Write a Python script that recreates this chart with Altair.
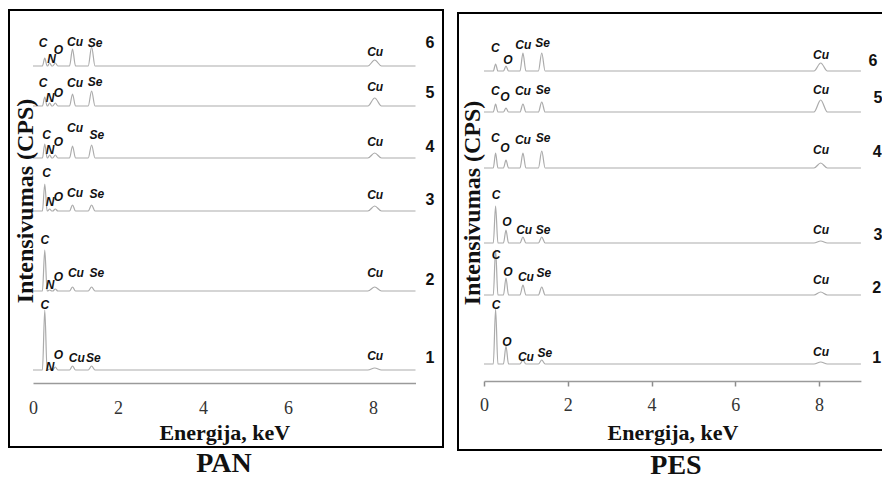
import altair as alt
import pandas as pd

# ---------------- data ----------------
SPECTRA = ["1", "2", "3", "4", "5", "6"]
ELEMENTS = ["C", "N", "O", "Cu", "Se", "Cu"]
PEAK_KEV = [0.277, 0.392, 0.525, 0.930, 1.379, 8.040]
PEAK_HALFWIDTH_KEV = [0.055, 0.05, 0.06, 0.07, 0.08, 0.16]
SPECTRUM_END_KEV = 9.0

# vertical offset of each spectrum (arbitrary CPS units, stacked)
PAN_BASELINE = [77, 156, 236, 289, 341, 381]
PES_BASELINE = [86, 155, 207, 282, 338, 379]

# peak heights above each spectrum's baseline: C, N, O, Cu L, Se L, Cu K
PAN_HEIGHTS = {
    "1": [60, 1, 3, 4, 4, 2],
    "2": [41, 1, 2, 4, 4, 4],
    "3": [27, 2, 2, 6, 6, 5],
    "4": [14, 3, 3, 12, 13, 5],
    "5": [9, 3, 3, 12, 15, 8],
    "6": [8, 3, 3, 17, 19, 6],
}
PES_HEIGHTS = {
    "1": [55, 0, 18, 4, 4, 2],
    "2": [45, 0, 17, 10, 8, 3],
    "3": [37, 0, 13, 6, 6, 2],
    "4": [15, 0, 8, 15, 17, 5],
    "5": [8, 0, 4, 8, 10, 12],
    "6": [7, 0, 5, 18, 18, 8],
}

# element annotations: (text, keV, height above baseline)
PAN_LABELS = {
    "6": [("C", 0.24, 23), ("N", 0.44, 7), ("O", 0.60, 16), ("Cu", 0.99, 24), ("Se", 1.46, 23), ("Cu", 8.05, 14)],
    "5": [("C", 0.24, 23), ("N", 0.40, 8), ("O", 0.60, 13), ("Cu", 0.99, 23), ("Se", 1.46, 24), ("Cu", 8.05, 19)],
    "4": [("C", 0.32, 23), ("N", 0.40, 8), ("O", 0.60, 16), ("Cu", 0.99, 30), ("Se", 1.50, 23), ("Cu", 8.05, 16)],
    "3": [("C", 0.32, 38), ("N", 0.40, 9), ("O", 0.60, 14), ("Cu", 0.99, 18), ("Se", 1.50, 17), ("Cu", 8.05, 16)],
    "2": [("C", 0.28, 51), ("N", 0.40, 6), ("O", 0.60, 14), ("Cu", 1.01, 18), ("Se", 1.50, 18), ("Cu", 8.05, 18)],
    "1": [("C", 0.28, 65), ("N", 0.40, 3), ("O", 0.60, 15), ("Cu", 1.03, 12), ("Se", 1.42, 12), ("Cu", 8.05, 14)],
}
PES_LABELS = {
    "6": [("C", 0.27, 23), ("O", 0.57, 11), ("Cu", 0.94, 26), ("Se", 1.40, 28), ("Cu", 8.05, 16)],
    "5": [("C", 0.27, 21), ("O", 0.50, 15), ("Cu", 0.93, 21), ("Se", 1.41, 22), ("Cu", 8.05, 22)],
    "4": [("C", 0.27, 30), ("O", 0.50, 20), ("Cu", 0.93, 28), ("Se", 1.41, 30), ("Cu", 8.05, 18)],
    "3": [("C", 0.29, 48), ("O", 0.55, 21), ("Cu", 0.96, 13), ("Se", 1.41, 13), ("Cu", 8.05, 13)],
    "2": [("C", 0.29, 40), ("O", 0.57, 23), ("Cu", 1.00, 18), ("Se", 1.43, 22), ("Cu", 8.05, 15)],
    "1": [("C", 0.29, 59), ("O", 0.55, 22), ("Cu", 1.00, 7), ("Se", 1.45, 11), ("Cu", 8.05, 12)],
}

# spectrum numbers at right: keV position and height
PAN_NUMBER_KEV = [9.34, 9.34, 9.34, 9.34, 9.34, 9.34]
PAN_NUMBER_Y = [89, 167, 247, 300, 354, 404]
PES_NUMBER_KEV = [9.38, 9.38, 9.41, 9.39, 9.41, 9.29]
PES_NUMBER_Y = [92, 162, 215, 298, 352, 389]

TICK_VALUES = [0, 2, 4, 6, 8]
KEV_DOMAIN = [0, 9]
CPS_DOMAIN = [0, 437]


def spectrum_table(baselines, heights):
    rows = []
    for s, base in zip(SPECTRA, baselines):
        pts = [(0.0, 0.0)]
        for e, w, h in zip(PEAK_KEV, PEAK_HALFWIDTH_KEV, heights[s]):
            if h <= 0:
                continue
            pts += [(e - w, 0.0), (e, float(h)), (e + w, 0.0)]
        pts.append((SPECTRUM_END_KEV, 0.0))
        for i, (e, v) in enumerate(pts):
            rows.append({"s": s, "E": e, "I": base + v, "o": i})
    return pd.DataFrame(rows)


def label_table(baselines, labels):
    rows = []
    for s, base in zip(SPECTRA, baselines):
        for txt, e, dy in labels[s]:
            rows.append({"t": txt, "E": e, "I": base + dy})
    return pd.DataFrame(rows)


# ---------------- layout (pixels inside the drawing) ----------------
W, H_VIEW, PAD_BOTTOM = 874, 373, 99
SERIF = "Liberation Serif"
SANS = "Liberation Sans"


def panel_layers(name, baselines, heights, labels, num_kev, num_y,
                 x_range, y_range, frame, axis_shift, ticks, label_pad, title_pad,
                 ytitle_xy, name_xy):
    xs = alt.Scale(domain=KEV_DOMAIN, range=x_range, nice=False, zero=False)
    ys = alt.Scale(domain=CPS_DOMAIN, range=y_range, nice=False, zero=False)
    axis = alt.Axis(orient="bottom", values=TICK_VALUES, format="d", grid=False,
                    domain=True, domainColor="#9a9a9a", domainWidth=1.5,
                    ticks=ticks, tickSize=5 if ticks else 0, tickColor="#8c8c8c", tickWidth=1.5,
                    offset=axis_shift, labelFont=SERIF, labelFontSize=18,
                    labelColor="#333333", labelPadding=label_pad, labelFlush=False,
                    title="Energija, keV", titleFont=SERIF, titleFontSize=22,
                    titleFontWeight="bold", titleColor="#111111", titlePadding=title_pad)

    box = alt.Chart(pd.DataFrame({"p": [name]})).mark_rect(
        filled=False, stroke="black", strokeWidth=2
    ).encode(x=alt.value(frame[0]), x2=alt.value(frame[1]),
             y=alt.value(frame[2]), y2=alt.value(frame[3]))

    lines = alt.Chart(spectrum_table(baselines, heights)).mark_line(
        color="#ababab", strokeWidth=1.2, interpolate="monotone"
    ).encode(
        x=alt.X("E:Q", scale=xs, axis=axis),
        y=alt.Y("I:Q", scale=ys, axis=None),
        detail="s:N",
        order="o:Q",
    )

    elems = alt.Chart(label_table(baselines, labels)).mark_text(
        font=SANS, fontSize=12, fontWeight="bold", fontStyle="italic",
        color="#111111", align="center", baseline="middle"
    ).encode(
        x=alt.X("E:Q", scale=xs, axis=None),
        y=alt.Y("I:Q", scale=ys, axis=None),
        text="t:N",
    )

    nums = alt.Chart(pd.DataFrame({"t": SPECTRA, "E": num_kev, "I": num_y})).mark_text(
        font=SANS, fontSize=16, fontWeight="bold", color="#111111",
        align="center", baseline="middle"
    ).encode(
        x=alt.X("E:Q", scale=xs, axis=None),
        y=alt.Y("I:Q", scale=ys, axis=None),
        text="t:N",
    )

    ytitle = alt.Chart(pd.DataFrame({"t": ["Intensivumas (CPS)"]})).mark_text(
        font=SERIF, fontSize=24, fontWeight="bold", color="#111111",
        angle=270, align="center", baseline="middle"
    ).encode(x=alt.value(ytitle_xy[0]), y=alt.value(ytitle_xy[1]), text="t:N")

    ptitle = alt.Chart(pd.DataFrame({"t": [name]})).mark_text(
        font=SERIF, fontSize=28, fontWeight="bold", color="#111111",
        align="center", baseline="alphabetic"
    ).encode(x=alt.value(name_xy[0]), y=alt.value(name_xy[1]), text="t:N")

    return [box, lines, elems, nums, ytitle, ptitle]


pan = panel_layers("PAN", PAN_BASELINE, PAN_HEIGHTS, PAN_LABELS, PAN_NUMBER_KEV, PAN_NUMBER_Y,
                   x_range=[25, 407.5], y_range=[439, 2], frame=[1, 435, 2, 439],
                   axis_shift=2, ticks=False, label_pad=16, title_pad=5,
                   ytitle_xy=[18, 193], name_xy=[216, 464])
pes = panel_layers("PES", PES_BASELINE, PES_HEIGHTS, PES_LABELS, PES_NUMBER_KEV, PES_NUMBER_Y,
                   x_range=[476, 852.9], y_range=[442, 5], frame=[450, 890, 5, 442],
                   axis_shift=0, ticks=True, label_pad=10, title_pad=8,
                   ytitle_xy=[465, 195], name_xy=[668, 466])

chart = alt.layer(*pan, *pes).resolve_scale(
    x="independent", y="independent"
).resolve_axis(x="independent").properties(
    width=W, height=H_VIEW,
    autosize=alt.AutoSizeParams(type="none"),
    padding={"left": 0, "top": 0, "right": 0, "bottom": PAD_BOTTOM},
    background="white",
).configure_view(stroke=None)

chart.save("out.html", embed_options={"renderer": "svg", "actions": False})
